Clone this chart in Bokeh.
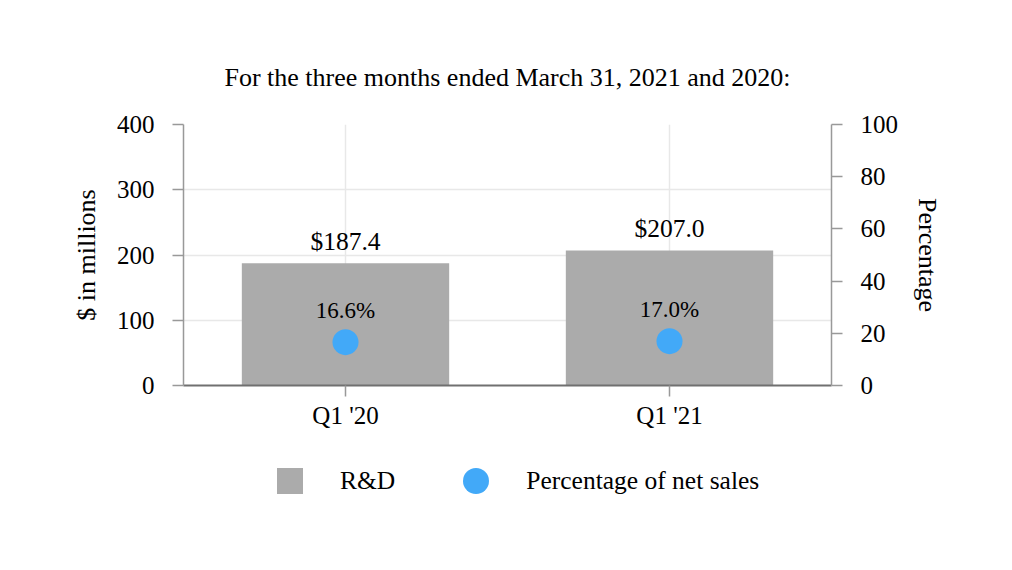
from bokeh.plotting import figure
from bokeh.layouts import column
from bokeh.models import (FactorRange, Range1d, LinearAxis, FixedTicker,
                          ColumnDataSource, LabelSet, Legend, LegendItem)
from bokeh.embed import file_html
from bokeh.resources import INLINE

quarters = ["Q1 '20", "Q1 '21"]
rd_spend = [187.4, 207.0]
pct_net_sales = [16.6, 17.0]
left_ticks = [0, 100, 200, 300, 400]
right_ticks = [0, 20, 40, 60, 80, 100]

FONT = "Liberation Serif"
BAR = "#ABABAB"
DOT = "#42A9F8"
GRID = "#e8e8e8"

src = ColumnDataSource(dict(
    q=quarters, rd=rd_spend, pct=pct_net_sales,
    rd_lbl=[f"${v:.1f}" for v in rd_spend],
    pct_lbl=[f"{v:.1f}%" for v in pct_net_sales],
))

p = figure(frame_width=648, frame_height=261, x_range=FactorRange(*quarters),
           y_range=Range1d(0, 400), output_backend="svg", toolbar_location=None,
           min_border_left=183, min_border_right=181, min_border_top=124,
           min_border_bottom=60,
           title="For the three months ended March 31, 2021 and 2020:")
p.extra_y_ranges = {"pct": Range1d(0, 100)}
p.outline_line_color = None
p.background_fill_color = "white"

p.title.text_font = FONT
p.title.text_font_size = "26px"
p.title.text_font_style = "normal"
p.title.text_color = "black"
p.title.align = "center"
p.title.standoff = 66

# grids
p.xgrid.grid_line_color = GRID
p.xgrid.grid_line_width = 1.5
p.ygrid.grid_line_color = GRID
p.ygrid.grid_line_width = 1.5
p.ygrid.ticker = FixedTicker(ticks=left_ticks)

# left axis
ya = p.yaxis[0]
ya.ticker = FixedTicker(ticks=left_ticks)
ya.axis_label = "$ in millions"
ya.axis_line_color = "#999999"
ya.axis_line_width = 1.5
ya.major_tick_line_color = "#999999"
ya.major_tick_line_width = 1.5
ya.major_tick_out = 11
ya.major_tick_in = 0
ya.minor_tick_line_color = None
ya.major_label_standoff = 18
ya.axis_label_standoff = 13

# right axis
ra = LinearAxis(y_range_name="pct", ticker=FixedTicker(ticks=right_ticks),
                axis_label="Percentage")
ra.axis_line_color = "#999999"
ra.axis_line_width = 1.5
ra.major_tick_line_color = "#999999"
ra.major_tick_line_width = 1.5
ra.major_tick_out = 11
ra.major_tick_in = 0
ra.minor_tick_line_color = None
ra.major_label_standoff = 18
ra.axis_label_standoff = 12
p.add_layout(ra, "right")

# bottom axis
xa = p.xaxis[0]
xa.axis_line_color = "#707070"
xa.axis_line_width = 2
xa.major_tick_line_color = "#999999"
xa.major_tick_line_width = 1.5
xa.major_tick_out = 11
xa.major_tick_in = 0
xa.major_label_standoff = 5

for ax in (ya, ra, xa):
    ax.major_label_text_font = FONT
    ax.major_label_text_font_size = "25px"
    ax.major_label_text_color = "black"
    ax.axis_label_text_font = FONT
    ax.axis_label_text_font_size = "26px"
    ax.axis_label_text_font_style = "normal"
    ax.axis_label_text_color = "black"

p.vbar(x="q", top="rd", width=0.64, source=src, fill_color=BAR, line_color=None)
p.scatter(x="q", y="pct", y_range_name="pct", source=src, size=26,
          fill_color=DOT, line_color=None)

p.add_layout(LabelSet(x="q", y="rd", text="rd_lbl", source=src,
                      text_align="center", text_baseline="alphabetic",
                      y_offset=13, text_font=FONT, text_font_size="25.5px",
                      text_color="black"))
p.add_layout(LabelSet(x="q", y="pct", y_range_name="pct", text="pct_lbl",
                      source=src, text_align="center",
                      text_baseline="alphabetic", y_offset=24, text_font=FONT,
                      text_font_size="23px", text_color="black"))

# legend strip below the chart
lg = figure(width=1012, height=125, x_range=FactorRange(*quarters),
            y_range=Range1d(0, 400), output_backend="svg",
            toolbar_location=None, min_border=0)
lg.axis.visible = False
lg.grid.visible = False
lg.outline_line_color = None
lg.extra_y_ranges = {"pct": Range1d(0, 100)}
# zero-size proxies: only their legend swatches are visible
rd_proxy = lg.scatter(x="q", y="rd", source=src, marker="square", size=0,
                      fill_color=BAR, line_color=None)
pct_proxy = lg.scatter(x="q", y="pct", y_range_name="pct", source=src,
                       marker="circle", size=0, fill_color=DOT, line_color=None)
legend = Legend(items=[LegendItem(label="R&D", renderers=[rd_proxy]),
                       LegendItem(label="Percentage of net sales",
                                  renderers=[pct_proxy])],
                orientation="horizontal", location=(74, 57),
                glyph_width=65, glyph_height=65, label_standoff=18, spacing=48,
                label_text_font=FONT, label_text_font_size="25.5px",
                label_text_color="black", border_line_color=None,
                background_fill_alpha=0, padding=0, margin=0)
lg.add_layout(legend, "center")

layout = column(p, lg, spacing=0)
open("out.html", "w").write(file_html(layout, INLINE))
